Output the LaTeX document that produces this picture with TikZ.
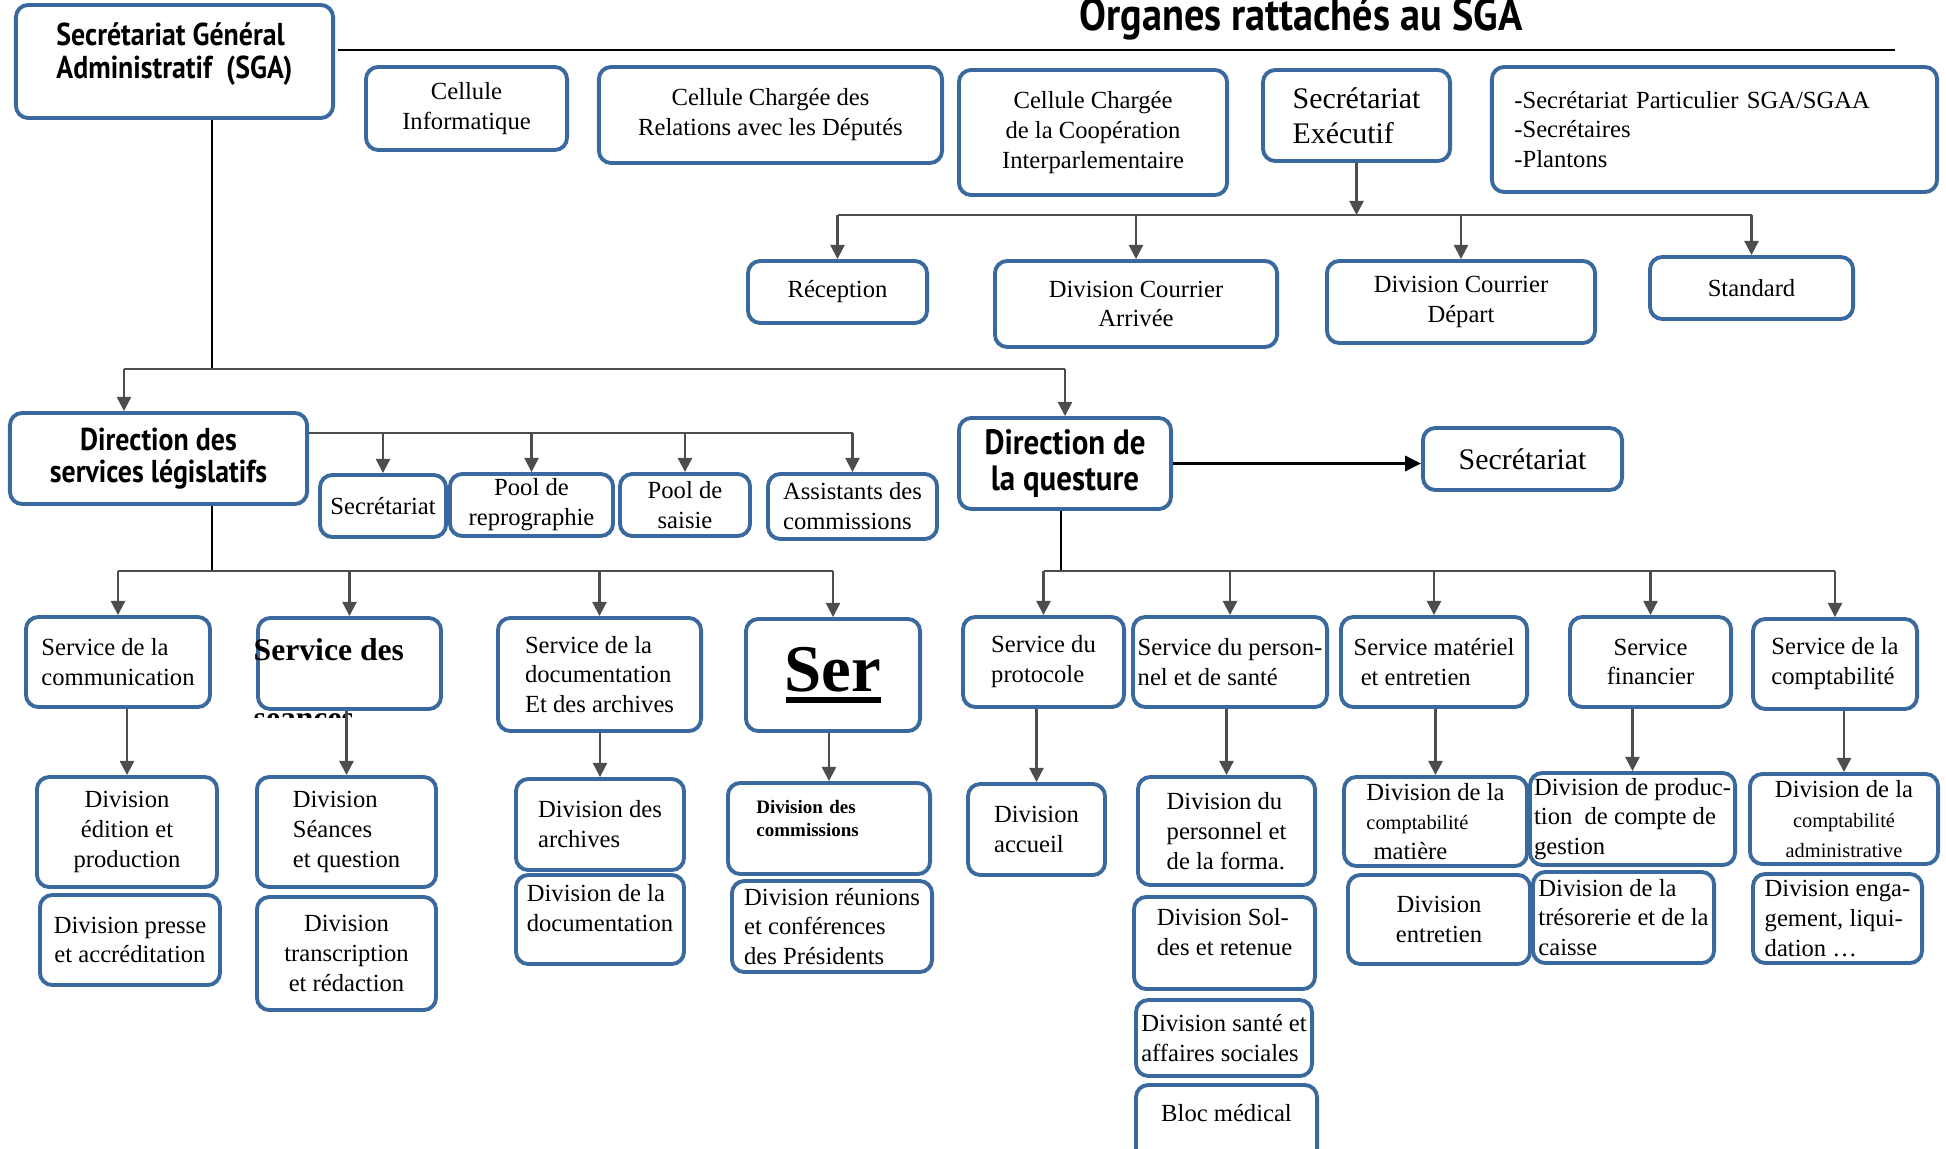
\documentclass[tikz,border=0pt]{standalone}
\usepackage{fontspec}
\setmainfont{Liberation Serif}
\newfontfamily\hdfont[FakeStretch=0.88]{PT Sans}
\usetikzlibrary{arrows.meta}
\definecolor{boxblue}{HTML}{3A6A9D}
\definecolor{linkgray}{HTML}{4D4D4D}

\tikzset{
  unit/.style={draw=boxblue, line width=1.1pt, rounded corners=3.5pt, fill=white,
    align=center, inner sep=1pt, font=\fontsize{7}{8.5}\selectfont},
  head/.style={unit, font=\hdfont\bfseries\fontsize{9}{9.3}\selectfont},
  link/.style={draw=linkgray, line width=0.6pt},
  arr/.style={link, -{Triangle[length=4pt,width=4pt]}},
  stem/.style={draw=black, line width=0.5pt},
}

\begin{document}
\begin{tikzpicture}[x=0.01cm, y=-0.01cm]
  \useasboundingbox (0,0) rectangle (1946,1149);

  % SGA and the organs attached to it
  \node[head, align=left, minimum width=3.17cm, minimum height=1.13cm] (sga) at (174.5,61.5) {Secrétariat Général\\Administratif~~(SGA)\\[-3.3pt]\mbox{}};
  \node[font=\hdfont\bfseries\fontsize{13}{14}\selectfont, anchor=base] (orgT) at (1301,31) {Organes rattachés au SGA};
  \coordinate (ruleL) at (338,50);
  \coordinate (ruleR) at (1895,50);
  \draw[line width=0.7pt] (ruleL) -- (ruleR);

  \node[unit, minimum width=2.01cm, minimum height=0.83cm] (cinfo) at (466.5,108.5) {Cellule\\Informatique};
  \node[unit, minimum width=3.43cm, minimum height=0.96cm] (cdep) at (770.5,115) {Cellule Chargée des\\Relations avec les Députés};
  \node[unit, minimum width=2.68cm, minimum height=1.25cm] (ccoop) at (1093,132.5) {Cellule Chargée\\de la Coopération\\Interparlementaire};
  \node[unit, align=left, minimum width=1.87cm, minimum height=0.91cm, font=\fontsize{8.5}{9.9}\selectfont] (sexe) at (1356.5,115.5) {Secrétariat\\Exécutif};
  \node[unit, align=left, text width=4.0cm, minimum width=4.45cm, minimum height=1.25cm] (slist) at (1714.5,129.5) {-Secrétariat Particulier SGA/SGAA\\-Secrétaires\\-Plantons};

  \node[unit, minimum width=1.79cm, minimum height=0.62cm] (recep) at (837.5,292) {Réception};
  \node[unit, minimum width=2.82cm, minimum height=0.86cm] (dca) at (1136,304) {Division Courrier\\Arrivée};
  \node[unit, minimum width=2.68cm, minimum height=0.82cm] (dcd) at (1461,302) {Division Courrier\\Départ};
  \node[unit, minimum width=2.03cm, minimum height=0.62cm] (stdd) at (1751.5,288) {Standard};

  % Direction des services legislatifs
  \node[head, minimum width=2.97cm, minimum height=0.91cm] (dsl) at (158.5,458.5) {Direction des\\services législatifs};
  \node[unit, minimum width=1.26cm, minimum height=0.62cm] (psec) at (383,506) {Secrétariat};
  \node[unit, minimum width=1.63cm, minimum height=0.62cm] (prep) at (531.5,505) {Pool de\\reprographie};
  \node[unit, minimum width=1.30cm, minimum height=0.62cm] (psai) at (685,505) {Pool de\\saisie};
  \node[unit, align=left, minimum width=1.69cm, minimum height=0.65cm] (pass) at (852.5,506.5) {Assistants des\\commissions};

  \node[unit, align=left, minimum width=1.84cm, minimum height=0.90cm] (scom) at (118,662) {Service de la\\communication};
  \node[unit, minimum width=1.83cm, minimum height=0.91cm] (sseance) at (349.5,663.5) {};
  \node[font=\bfseries\fontsize{9}{10}\selectfont, anchor=base west, inner sep=0pt] (sseanceT) at (253,660) {Service des};
  \begin{scope}
    \clip (240,712.5) rectangle (460,717);
    \node[font=\bfseries\fontsize{9}{10}\selectfont, anchor=base west, inner sep=0pt] (sseanceU) at (253,728) {séances};
  \end{scope}
  \node[unit, align=left, minimum width=2.03cm, minimum height=1.13cm] (sdoc) at (599.5,674.5) {Service de la\\documentation\\Et des archives};
  \node[unit, minimum width=1.74cm, minimum height=1.12cm, font=\bfseries\fontsize{19}{21}\selectfont] (ser) at (833,675) {Ser\llap{\rule[-3.4pt]{0.95cm}{1.7pt}}};

  \node[unit, minimum width=1.80cm, minimum height=1.10cm] (dedit) at (127,832) {Division\\édition et\\production};
  \node[unit, minimum width=1.80cm, minimum height=0.90cm] (dpresse) at (130,940) {Division presse\\et accréditation};
  \node[unit, align=left, minimum width=1.79cm, minimum height=1.10cm] (dseance) at (346.5,832) {Division\\Séances\\et question};
  \node[unit, minimum width=1.79cm, minimum height=1.13cm] (dtrans) at (346.5,953.5) {Division\\transcription\\et rédaction};
  \node[unit, align=left, minimum width=1.68cm, minimum height=0.91cm] (darch) at (600,824.5) {Division des\\archives};
  \node[unit, align=left, minimum width=1.68cm, minimum height=0.89cm] (ddoc) at (600,919.5) {Division de la\\documentation\\[-1.9pt]\mbox{}};
  \node[unit, align=left, text width=1.45cm, minimum width=2.02cm, minimum height=0.91cm, font=\bfseries\fontsize{5.4}{6.7}\selectfont] (dcomm) at (829,828.5) {Division des\\commissions\\[-1pt]\mbox{}};
  \node[unit, align=left, minimum width=2.00cm, minimum height=0.91cm] (dreun) at (832,926.5) {Division réunions\\et conférences\\des Présidents};

  % Direction de la questure
  \node[head, minimum width=2.12cm, minimum height=0.91cm, font=\hdfont\bfseries\fontsize{10}{10.2}\selectfont] (dq) at (1065,463.5) {Direction de\\la questure};
  \node[unit, minimum width=1.99cm, minimum height=0.62cm, font=\fontsize{8.5}{9.9}\selectfont] (qsec) at (1522.5,459) {Secrétariat};

  \node[unit, align=left, minimum width=1.61cm, minimum height=0.90cm] (sprot) at (1043.5,662) {Service du\\protocole};
  \node[unit, align=left, minimum width=1.94cm, minimum height=0.90cm] (spers) at (1230,662) {Service du person-\\nel et de santé};
  \node[unit, align=left, minimum width=1.86cm, minimum height=0.90cm] (smat) at (1434,662) {Service matériel\\\hspace{2pt}et entretien};
  \node[unit, minimum width=1.61cm, minimum height=0.90cm] (sfin) at (1650.5,662) {Service\\financier};
  \node[unit, align=left, minimum width=1.64cm, minimum height=0.90cm] (scpt) at (1835,664) {Service de la\\comptabilité};

  \node[unit, align=left, minimum width=1.37cm, minimum height=0.91cm] (dacc) at (1036.5,829.5) {Division\\accueil};
  \node[unit, align=left, minimum width=1.77cm, minimum height=1.08cm] (dpersf) at (1226.5,831) {Division du\\personnel et\\de la forma.};
  \node[unit, align=left, minimum width=1.81cm, minimum height=0.92cm] (dsold) at (1224.5,943) {Division Sol-\\des et retenue\\[-2pt]\mbox{}};
  \node[unit, align=left, minimum width=1.76cm, minimum height=0.76cm] (dsante) at (1224,1038) {Division santé et\\affaires sociales};
  \node[unit, minimum width=1.81cm, minimum height=0.85cm] (dbloc) at (1226.5,1127.5) {Bloc médical\\\mbox{}};
  \node[unit, align=left, minimum width=1.83cm, minimum height=0.89cm] (dcmat) at (1435.5,821.5) {Division de la\\{\fontsize{5.8}{8.5}\selectfont comptabilité}\\\hspace{2pt}matière};
  \node[unit, minimum width=1.82cm, minimum height=0.89cm] (dentr) at (1439,919.5) {Division\\entretien};
  \node[unit, align=left, minimum width=2.05cm, minimum height=0.92cm] (dprod) at (1632.5,819) {Division de produc-\\tion~ de compte de\\gestion};
  \node[unit, align=left, minimum width=1.81cm, minimum height=0.91cm] (dtres) at (1623.5,917.5) {Division de la\\trésorerie et de la\\caisse};
  \node[unit, minimum width=1.88cm, minimum height=0.90cm] (dcadm) at (1844,819) {Division de la\\{\fontsize{5.8}{7.8}\selectfont comptabilité}\\{\fontsize{5.8}{7.8}\selectfont administrative}};
  \node[unit, align=left, minimum width=1.69cm, minimum height=0.89cm] (deng) at (1837.5,918.5) {Division enga-\\gement, liqui-\\dation \dots};

  % connectors
  \coordinate (bExe) at (0,215);
  \draw[arr] (sexe.south) -- (sexe.south |- bExe);
  \draw[link] (recep.north |- bExe) -- (stdd.north |- bExe);
  \foreach \n in {recep,dca,dcd,stdd}
    \draw[arr] (\n.north |- bExe) -- (\n.north);

  \coordinate (jSGA) at (212,369);
  \coordinate (dDSL) at (124,369);
  \draw[stem] (jSGA |- sga.south) -- (jSGA);
  \draw[link] (dDSL) -- (dq.north |- jSGA);
  \draw[arr] (dDSL) -- (dDSL |- dsl.north);
  \draw[arr] (dq.north |- jSGA) -- (dq.north);

  \coordinate (bPool) at (0,433);
  \draw[link] (dsl.east |- bPool) -- (pass.north |- bPool);
  \foreach \n in {psec,prep,psai,pass}
    \draw[arr] (\n.north |- bPool) -- (\n.north);

  \coordinate (jDSL) at (212,571);
  \draw[stem] (jDSL |- dsl.south) -- (jDSL);
  \draw[link] (scom.north |- jDSL) -- (ser.north |- jDSL);
  \foreach \n in {scom,sseance,sdoc,ser}
    \draw[arr] (\n.north |- jDSL) -- (\n.north);

  \draw[line width=0.7pt, -{Triangle[length=4.5pt,width=4.3pt]}] (dq.east) -- (dq.east -| qsec.west);

  \coordinate (jDQ) at (1061,571);
  \draw[stem] (jDQ |- dq.south) -- (jDQ);
  \draw[link] (sprot.north |- jDQ) -- (scpt.north |- jDQ);
  \foreach \n in {sprot,spers,smat,sfin,scpt}
    \draw[arr] (\n.north |- jDQ) -- (\n.north);

  \foreach \s/\d in {scom/dedit,sseance/dseance,sdoc/darch,ser/dcomm,sprot/dacc,spers/dpersf,smat/dcmat,sfin/dprod,scpt/dcadm}
    \draw[arr] (\d.north |- \s.south) -- (\d.north);
\end{tikzpicture}
\end{document}
